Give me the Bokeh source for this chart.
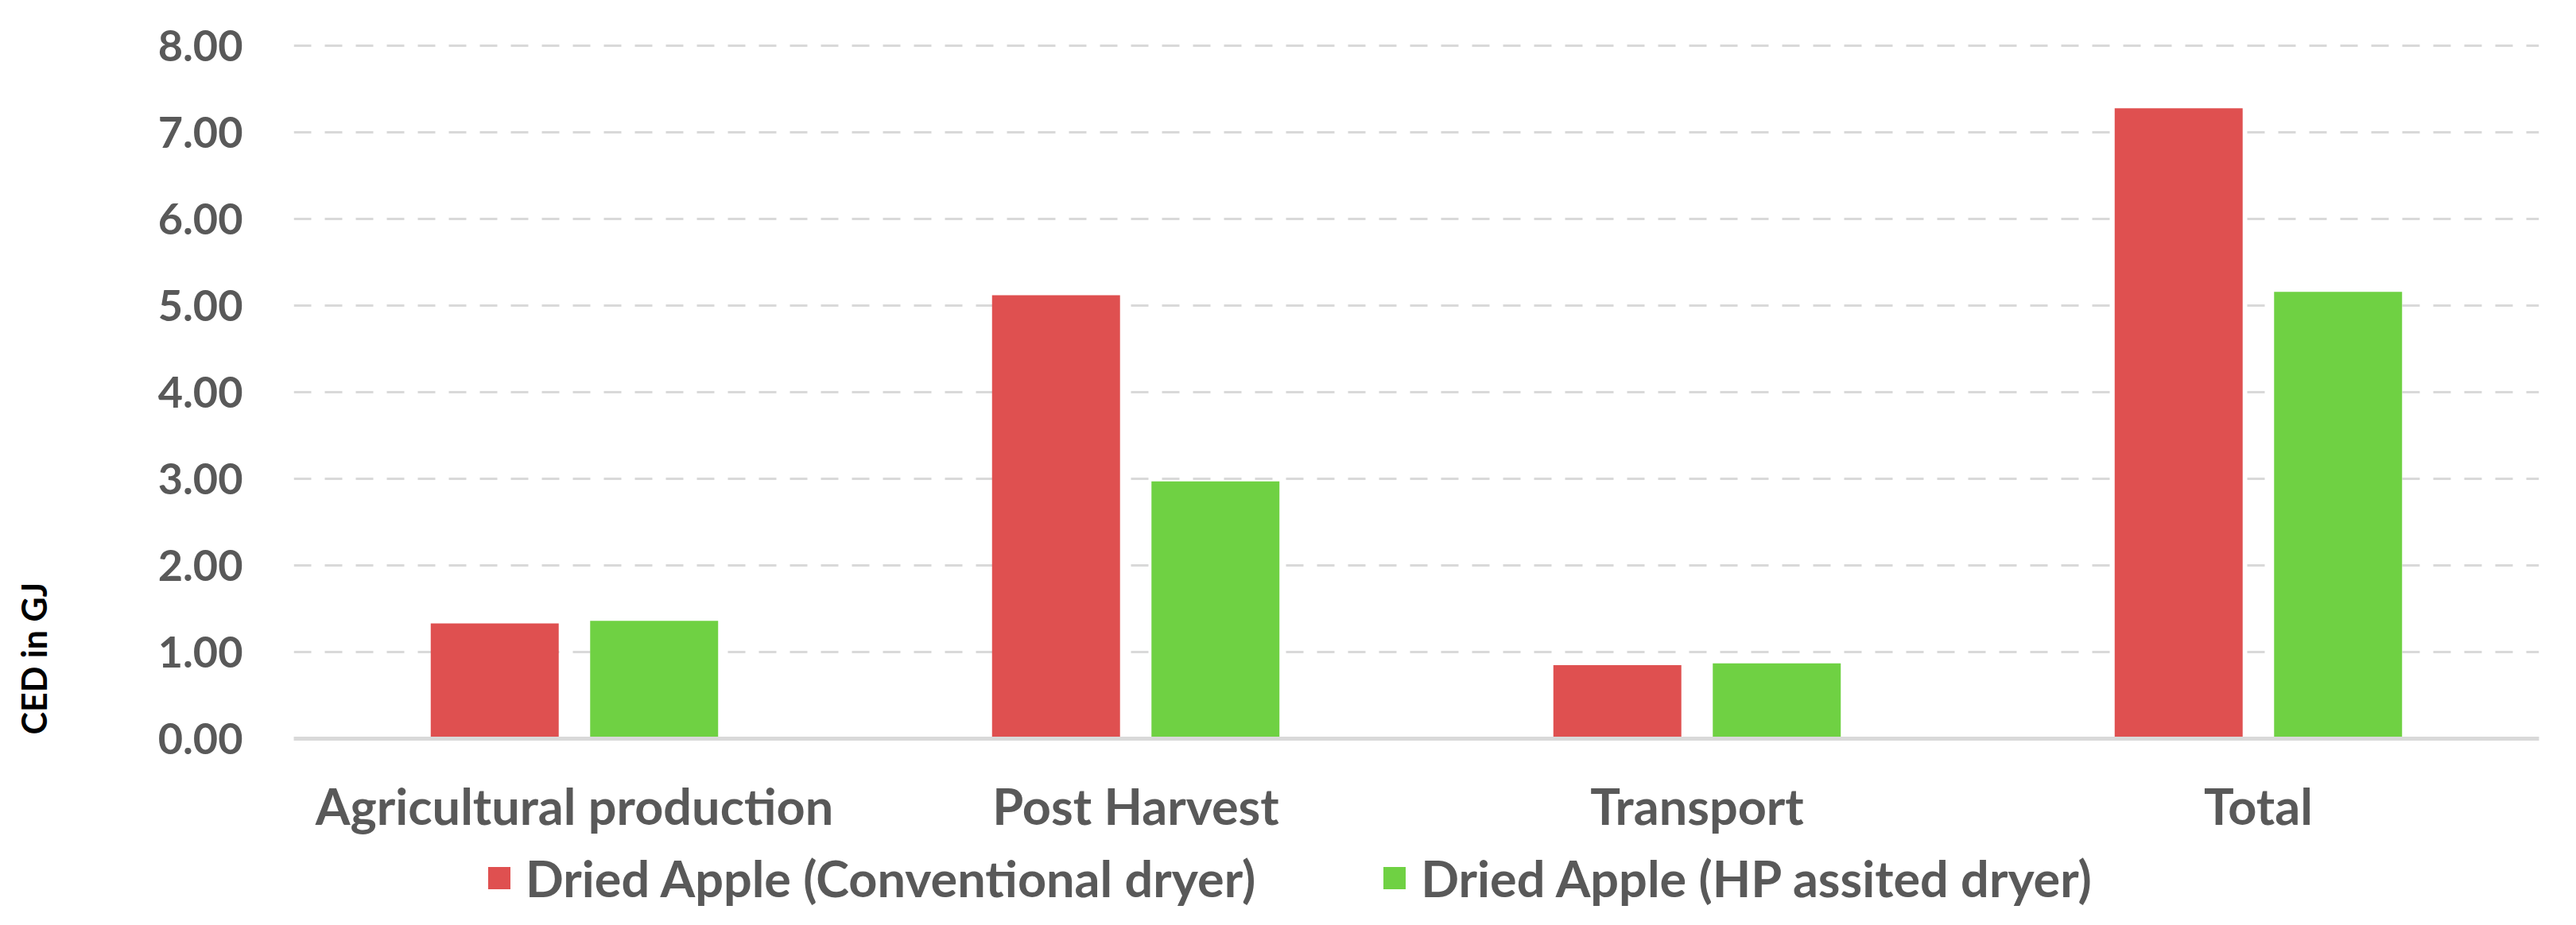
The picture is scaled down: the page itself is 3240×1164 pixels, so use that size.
import math
from bokeh.plotting import figure
from bokeh.layouts import column, row
from bokeh.models import (ColumnDataSource, FactorRange, Range1d, FixedTicker,
                          NumeralTickFormatter, Label, Legend, LegendItem)
from bokeh.transform import dodge
from bokeh.embed import file_html
from bokeh.resources import INLINE

# ---- data ----
categories = ["Agricultural production", "Post Harvest", "Transport", "Total"]
conventional = [1.33, 5.12, 0.85, 7.28]
hp_assisted = [1.36, 2.97, 0.87, 5.16]
y_ticks = [0, 1, 2, 3, 4, 5, 6, 7, 8]
series_names = ["Dried Apple (Conventional dryer)", "Dried Apple (HP assited dryer)"]
series_colors = ["#DF5050", "#6FD143"]
y_title = "CED in GJ"

source = ColumnDataSource(dict(cat=categories, conv=conventional, hp=hp_assisted))

FONT = "Lato"
GREY = "#595959"
TITLE_W = 80
MAIN_H = 1060
LEG_H = 104
TOTAL_W = 3224

# ---------------- main chart ----------------
p = figure(width=TOTAL_W - TITLE_W, height=MAIN_H, output_backend="svg",
           toolbar_location=None,
           x_range=FactorRange(*categories, range_padding=0),
           y_range=Range1d(0, 8.03),
           min_border_left=369 - TITLE_W, min_border_right=31, min_border_top=54,
           min_border_bottom=MAIN_H - 929)
p.outline_line_color = None

p.vbar(x=dodge("cat", -0.142, range=p.x_range), top="conv", width=0.228,
       source=source, color=series_colors[0], line_color=None)
p.vbar(x=dodge("cat", 0.142, range=p.x_range), top="hp", width=0.228,
       source=source, color=series_colors[1], line_color=None)

p.xgrid.grid_line_color = None
p.ygrid.grid_line_color = "#D9D9D9"
p.ygrid.grid_line_width = 3
p.ygrid.grid_line_dash = "22 17"

p.yaxis.ticker = FixedTicker(ticks=y_ticks)
p.yaxis.formatter = NumeralTickFormatter(format="0.00")
p.yaxis.axis_line_color = None
p.yaxis.major_tick_line_color = None
p.yaxis.minor_tick_line_color = None
p.yaxis.major_tick_out = 0
p.yaxis.major_tick_in = 0
p.yaxis.major_label_standoff = 64
p.yaxis.major_label_text_font = FONT
p.yaxis.major_label_text_font_style = "bold"
p.yaxis.major_label_text_font_size = "54px"
p.yaxis.major_label_text_color = GREY

p.xaxis.axis_line_color = "#D9D9D9"
p.xaxis.axis_line_width = 5
p.xaxis.major_tick_line_color = None
p.xaxis.minor_tick_line_color = None
p.xaxis.major_tick_out = 0
p.xaxis.major_tick_in = 0
p.xaxis.major_label_standoff = 46
p.xaxis.major_label_text_font = FONT
p.xaxis.major_label_text_font_style = "bold"
p.xaxis.major_label_text_font_size = "63px"
p.xaxis.major_label_text_color = GREY

# ---------------- y-axis title strip ----------------
pt = figure(width=TITLE_W, height=MAIN_H, output_backend="svg", toolbar_location=None,
            x_range=Range1d(0, 1), y_range=Range1d(0, 1),
            x_axis_location=None, y_axis_location=None,
            min_border=0)
pt.outline_line_color = None
pt.grid.visible = False
pt.add_layout(Label(x=42, y=5, x_units="screen", y_units="screen",
                    text=y_title, angle=math.pi / 2, text_align="left",
                    text_baseline="middle", text_font=FONT, text_font_style="bold",
                    text_font_size="43px", text_color="black"))

# ---------------- legend strip ----------------
pl = figure(width=TOTAL_W, height=LEG_H, output_backend="svg", toolbar_location=None,
            x_range=Range1d(0, 1), y_range=Range1d(0, 1),
            x_axis_location=None, y_axis_location=None, min_border=0)
pl.outline_line_color = None
pl.grid.visible = False
items = []
for name, col in zip(series_names, series_colors):
    # zero-height placeholder bar: only provides the legend swatch
    r = pl.vbar(x=[0.5], top=[0], bottom=[0], width=0, fill_color=col, line_color=None)
    items.append(LegendItem(label=name, renderers=[r]))
lg = Legend(items=items, orientation="horizontal", location=(610, 22),
            border_line_color=None, background_fill_alpha=0, padding=0, margin=0,
            spacing=157, label_standoff=16, glyph_width=35, glyph_height=35,
            label_text_font=FONT, label_text_font_style="bold",
            label_text_font_size="63px", label_text_color=GREY)
pl.add_layout(lg, "center")

layout = column(row(pt, p), pl)
open("out.html", "w").write(file_html(layout, INLINE))
